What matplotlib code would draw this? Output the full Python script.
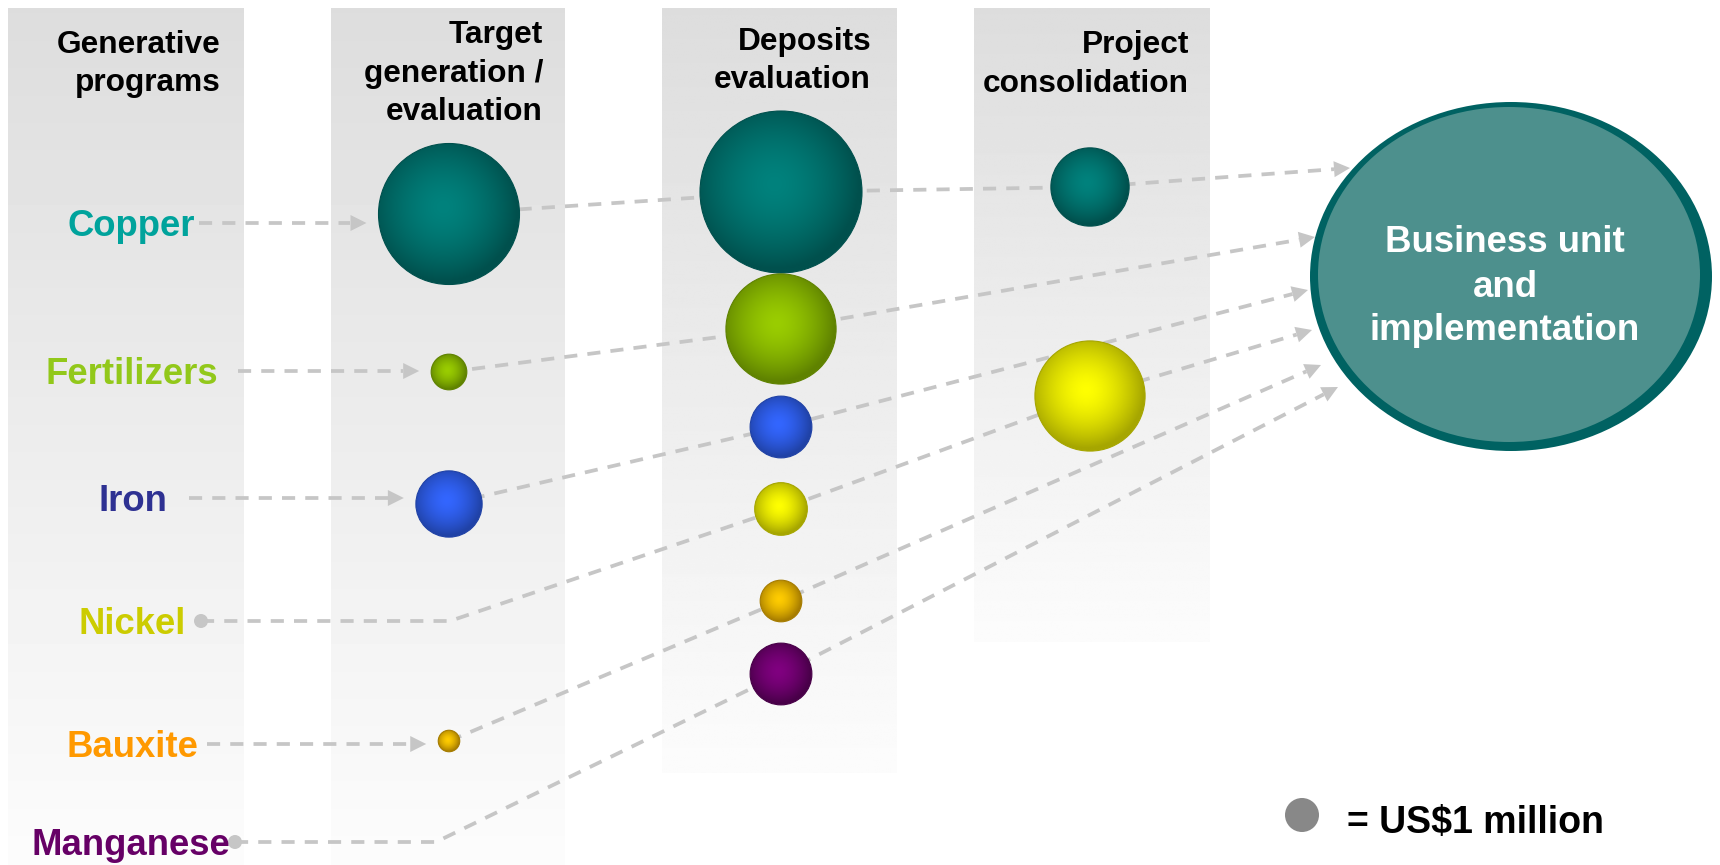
import numpy as np
import matplotlib.pyplot as plt
from matplotlib.patches import Circle, Ellipse, Polygon
from matplotlib.colors import to_rgb

plt.rcParams['font.family'] = ['Liberation Sans', 'DejaVu Sans']

# commodities and spend per stage (US$ million)
commodities = ['Copper', 'Fertilizers', 'Iron', 'Nickel', 'Bauxite', 'Manganese']
stage_titles = ['Generative\nprograms', 'Target\ngeneration /\nevaluation',
                'Deposits\nevaluation', 'Project\nconsolidation']
target_musd = [17.2, 1.1, 3.8, 0, 0.4, 0]
deposits_musd = [22.7, 10.5, 3.3, 2.4, 1.5, 3.3]
project_musd = [5.3, 0, 0, 10.5, 0, 0]
goal_lines = ['Business unit', 'and', 'implementation']
unit_text = '= US$1 million'

label_colors = ['#00A39C', '#92C81A', '#2E3192', '#CCCC00', '#FF9900', '#660066']
ball_light = ['#00827D', '#9ACD00', '#3366FF', '#FFFF00', '#FFCC00', '#800080']
ball_dark = ['#00504D', '#5F8200', '#2042A6', '#A6A600', '#A67C00', '#480048']
grey = '#C6C6C6'

# layout, in pixels
W, H = 1720, 865
panel_x = [(8, 244), (331, 565), (662, 897), (974, 1210)]
panel_bottom = [865, 865, 773, 642]
title_right = [221, 543, 871, 1189]
title_base = [[53, 91], [43, 82, 120], [50, 88], [53, 92]]

stage_x = [449, 781, 1090]
stage_y = [[214, 372, 504, None, 741, None],
           [192, 329, 427, 509, 601, 674],
           [187, None, None, 396, None, None]]
row_y = [223, 371, 498, 621, 744, 842]
label_right = [195, 218, 167, 186, 198, 230]
line_start = [199, 238, 189, 201, 207, 235]
bend_x = [None, None, None, 450, None, 436]
goal_tips = [(1350, 168), (1315, 237), (1308, 290), (1312, 330), (1321, 365), (1338, 387)]
unit_r = 17  # radius of a US$1 million ball


def radius(v):
    return unit_r * np.sqrt(v)


fig = plt.figure(figsize=(17.2, 8.65), dpi=100)
ax = fig.add_axes([0, 0, 1, 1])
ax.axis('off')

# grey stage panels fading to white
for (x0, x1), yb in zip(panel_x, panel_bottom):
    grad = np.linspace(221, 252, 256) / 255
    img = np.repeat(grad[:, None], 2, axis=1)
    ax.imshow(img, cmap='gray', vmin=0, vmax=1, extent=(x0, x1, yb, 8),
              origin='upper', aspect='auto', interpolation='bilinear', zorder=0)

for title, xr, bases in zip(stage_titles, title_right, title_base):
    for line, yb in zip(title.split('\n'), bases):
        ax.text(xr, yb, line, ha='right', va='baseline', fontsize=22.8,
                fontweight='bold', color='black', zorder=6)


def dashed(xs, ys):
    ax.plot(xs, ys, color=grey, lw=2.7, linestyle=(0, (3.5, 2.7)),
            dash_capstyle='butt', zorder=2)


def head(x0, y0, x1, y1, length=16, half=8):
    d = np.array([x1 - x0, y1 - y0], dtype=float)
    d /= np.hypot(*d)
    n = np.array([-d[1], d[0]])
    tip = np.array([x1, y1], dtype=float)
    base = tip - d * length
    ax.add_patch(Polygon([tip, base + n * half, base - n * half], closed=True,
                         facecolor=grey, edgecolor='none', zorder=3))
    return base


def ball(x, y, r, light, dark):
    g = np.linspace(-1, 1, 160)
    gx, gy = np.meshgrid(g, g)
    t = np.clip(np.hypot(gx + 0.08, gy + 0.1) / 1.05, 0, 1) ** 1.6
    c0, c1 = np.array(to_rgb(light)), np.array(to_rgb(dark))
    img = c0 * (1 - t[..., None]) + c1 * t[..., None]
    im = ax.imshow(img, extent=(x - r, x + r, y + r, y - r), origin='upper',
                   aspect='auto', interpolation='bilinear', zorder=4)
    im.set_clip_path(Circle((x, y), r, transform=ax.transData))
    ax.add_patch(Circle((x, y), r, fill=False, ec=dark, lw=0.8, zorder=4))


# big goal ellipse
ax.add_patch(Ellipse((1511, 276.5), 402, 349, facecolor='#006262', edgecolor='none', zorder=1))
ax.add_patch(Ellipse((1509, 274.5), 382, 335, facecolor='#4D908D', edgecolor='none', zorder=1))
for line, yb in zip(goal_lines, [252, 297, 340]):
    ax.text(1505, yb, line, ha='center', va='baseline', fontsize=26.4,
            fontweight='bold', color='white', zorder=6)

stage_values = [target_musd, deposits_musd, project_musd]

for i, name in enumerate(commodities):
    y = row_y[i]
    ax.text(label_right[i], y + 13, name, ha='right', va='baseline', fontsize=26.3,
            fontweight='bold', color=label_colors[i], zorder=6)

    # bubbles this commodity passes through
    nodes = []
    for s in range(3):
        v = stage_values[s][i]
        if v > 0:
            nodes.append((stage_x[s], stage_y[s][i], radius(v)))

    if bend_x[i] is None:
        # arrow from the label to the first ball
        fx, fy, fr = nodes[0]
        tip_x = fx - fr - 12
        base = head(line_start[i], y, tip_x, y)
        dashed([line_start[i], base[0]], [y, y])
        pts = [(fx, fy)]
    else:
        ax.add_patch(Circle((line_start[i], y), 7, facecolor=grey, edgecolor='none', zorder=3))
        pts = [(line_start[i], y), (bend_x[i], y)]
    pts += [(nx, ny) for nx, ny, _ in nodes[1:]] if bend_x[i] is None else [(nx, ny) for nx, ny, _ in nodes]

    tx, ty = goal_tips[i]
    px, py = pts[-1]
    base = head(px, py, tx, ty)
    pts.append((base[0], base[1]))
    xs, ys = zip(*pts)
    dashed(xs, ys)

    for (nx, ny, nr) in nodes:
        ball(nx, ny, nr, ball_light[i], ball_dark[i])

# scale key
ax.add_patch(Circle((1302, 815), radius(1.0), facecolor='#888888', edgecolor='none', zorder=4))
ax.text(1347, 833, unit_text, ha='left', va='baseline', fontsize=27,
        fontweight='bold', color='black', zorder=6)

ax.set_xlim(0, W)
ax.set_ylim(H, 0)
fig.savefig('out.png', dpi=100, facecolor='white')
